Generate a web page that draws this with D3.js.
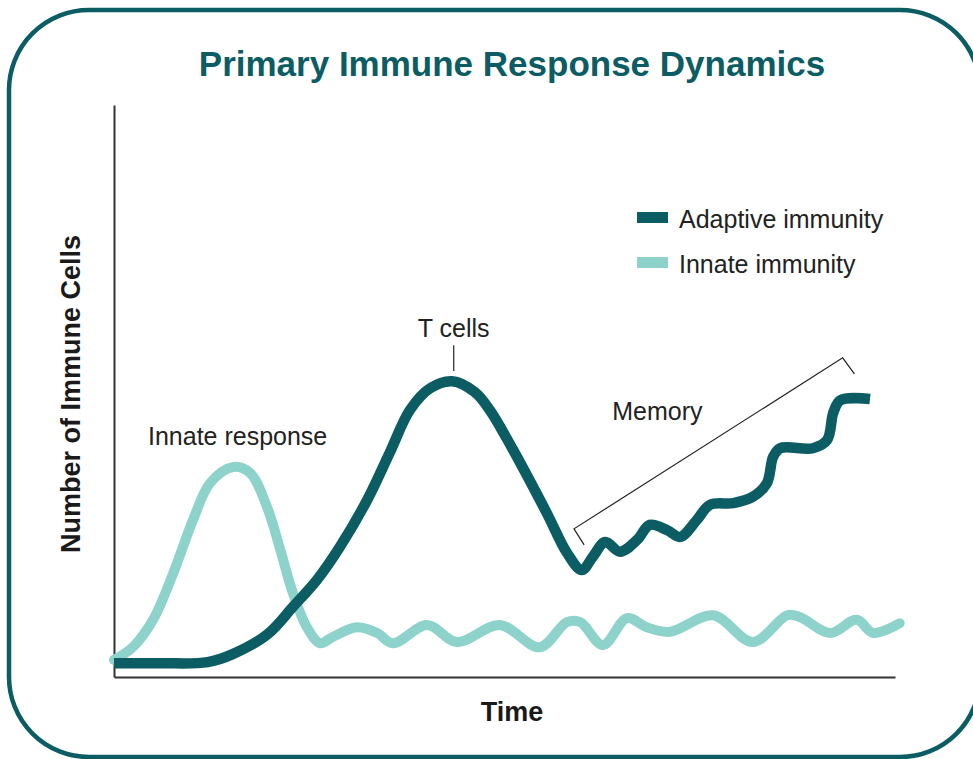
<!DOCTYPE html>
<html>
<head>
<meta charset="utf-8">
<script src="https://cdn.jsdelivr.net/npm/d3@7"></script>
<style>
  html, body { margin: 0; padding: 0; background: #fff; }
  svg { display: block; font-family: "Liberation Sans", Arial, sans-serif; }
</style>
</head>
<body>
<div id="chart"></div>
<script>
(function () {
  'use strict';

  /* -----------------------------------------------------------
     Data (time 0..100, cells 0..100)
  ----------------------------------------------------------- */
  var adaptiveTime  = [0, 6, 12.0, 15.2, 19.6, 23.0, 26.0, 28.9, 32.4, 35.3, 37.9, 40.5, 43.3, 46.2, 48.1, 51.1, 55.4, 58.0, 59.9, 61.3, 62.9, 64.8, 67.0, 68.6, 70.8, 72.5, 74.6, 76.3, 79.3, 81.8, 83.6, 84.4, 85.3, 89.5, 91.3, 92.1, 93.0, 96.8];
  var adaptiveCells = [2.4, 2.4, 2.6, 4.0, 7.4, 12.4, 17.0, 22.7, 30.9, 39.2, 46.7, 50.5, 51.7, 49.8, 46.7, 39.7, 28.7, 21.7, 18.7, 21.0, 23.6, 21.9, 24.0, 26.6, 25.7, 24.5, 27.4, 30.1, 30.4, 31.5, 33.9, 38.5, 40.0, 40.0, 41.4, 46.2, 48.4, 48.6];

  var innateTime  = [0, 2.4, 5.0, 7.6, 10.1, 12.3, 15.2, 17.4, 19.6, 21.3, 22.9, 24.7, 26.4, 28.0, 31.1, 33.7, 35.7, 40.1, 43.9, 49.4, 54.5, 58.0, 59.7, 62.6, 65.7, 68.2, 71.2, 76.7, 81.8, 86.2, 87.8, 91.7, 95.1, 97.2, 100.6];
  var innateCells = [3.0, 5.2, 10.0, 18.2, 27.4, 33.9, 36.7, 35.7, 29.7, 22.2, 14.7, 8.7, 5.9, 7.0, 8.7, 7.7, 5.9, 9.1, 6.1, 9.1, 5.2, 9.6, 9.6, 5.6, 10.3, 8.7, 7.9, 10.8, 6.1, 10.8, 10.5, 7.7, 10.0, 7.7, 9.4];

  var seriesNames  = ['Adaptive immunity', 'Innate immunity'];
  var seriesColors = ['#0b5c63', '#8ed3cb'];

  var titleText = 'Primary Immune Response Dynamics';
  var xLabel = 'Time';
  var yLabel = 'Number of Immune Cells';

  // annotation anchors in data units
  var tCellsMark    = [43.5, 58.0, 53.5];            // t, top v, bottom v
  var memoryBracket = [[60.2, 23.1], [58.9, 25.9], [93.3, 55.8], [94.8, 53.0]];
  var labels = [
    { text: 'Innate response', t: 4.35, v: 40.6, anchor: 'start' },
    { text: 'T cells',         t: 43.5, v: 59.4, anchor: 'middle' },
    { text: 'Memory',          t: 63.8, v: 44.9, anchor: 'start' }
  ];

  /* -----------------------------------------------------------
     Setup
  ----------------------------------------------------------- */
  var W = 973, H = 759;
  var TEAL = '#0b5c63';

  var svg = d3.select('#chart').append('svg')
    .attr('width', W).attr('height', H);

  /* Frame */
  svg.append('rect')
    .attr('x', 9).attr('y', 10)
    .attr('width', 971).attr('height', 747)
    .attr('rx', 80).attr('ry', 80)
    .attr('fill', '#fff')
    .attr('stroke', TEAL)
    .attr('stroke-width', 4.5);

  /* Title */
  svg.append('text')
    .attr('x', 512).attr('y', 76)
    .attr('text-anchor', 'middle')
    .attr('font-size', 35)
    .attr('font-weight', 'bold')
    .attr('fill', TEAL)
    .text(titleText);

  var x = d3.scaleLinear().domain([0, 100]).range([114, 895]);
  var y = d3.scaleLinear().domain([0, 100]).range([677, 105]);

  /* Axes — bare lines, no ticks */
  var gx = svg.append('g')
    .attr('transform', 'translate(0,' + y(0) + ')')
    .call(d3.axisBottom(x).tickValues([]).tickSizeOuter(0));
  var gy = svg.append('g')
    .attr('transform', 'translate(' + x(0) + ',0)')
    .call(d3.axisLeft(y).tickValues([]).tickSizeOuter(0));
  [gx, gy].forEach(function (g) {
    g.select('.domain').attr('stroke', '#333').attr('stroke-width', 2);
  });

  /* Axis labels */
  svg.append('text')
    .attr('x', 512).attr('y', 721)
    .attr('text-anchor', 'middle')
    .attr('font-size', 27).attr('font-weight', 'bold')
    .attr('fill', '#1a1a1a')
    .text(xLabel);

  svg.append('text')
    .attr('transform', 'translate(80,' + 394 + ') rotate(-90)')
    .attr('text-anchor', 'middle')
    .attr('font-size', 27).attr('font-weight', 'bold')
    .attr('fill', '#1a1a1a')
    .text(yLabel);

  /* Curves */
  var line = d3.line()
    .x(function (d) { return x(d[0]); })
    .y(function (d) { return y(d[1]); })
    .curve(d3.curveCatmullRom.alpha(0.5));

  var innate   = d3.zip(innateTime, innateCells);
  var adaptive = d3.zip(adaptiveTime, adaptiveCells);

  svg.append('path')
    .datum(innate)
    .attr('d', line)
    .attr('fill', 'none')
    .attr('stroke', seriesColors[1])
    .attr('stroke-width', 10)
    .attr('stroke-linecap', 'round')
    .attr('stroke-linejoin', 'round');

  svg.append('path')
    .datum(adaptive)
    .attr('d', line)
    .attr('fill', 'none')
    .attr('stroke', seriesColors[0])
    .attr('stroke-width', 10.5)
    .attr('stroke-linecap', 'butt')
    .attr('stroke-linejoin', 'round');

  /* Annotations */
  svg.selectAll('.note')
    .data(labels)
    .join('text')
    .attr('class', 'note')
    .attr('x', function (d) { return x(d.t); })
    .attr('y', function (d) { return y(d.v); })
    .attr('text-anchor', function (d) { return d.anchor; })
    .attr('font-size', 25)
    .attr('fill', '#222')
    .text(function (d) { return d.text; });

  svg.append('line')
    .attr('x1', x(tCellsMark[0])).attr('x2', x(tCellsMark[0]))
    .attr('y1', y(tCellsMark[1])).attr('y2', y(tCellsMark[2]))
    .attr('stroke', '#222').attr('stroke-width', 1.2);

  svg.append('path')
    .datum(memoryBracket)
    .attr('d', d3.line()
      .x(function (d) { return x(d[0]); })
      .y(function (d) { return y(d[1]); }))
    .attr('fill', 'none')
    .attr('stroke', '#222')
    .attr('stroke-width', 1.2);

  /* Legend */
  var legend = svg.append('g').attr('transform', 'translate(637,212)');
  var item = legend.selectAll('g')
    .data(seriesNames)
    .join('g')
    .attr('transform', function (d, i) { return 'translate(0,' + (i * 45) + ')'; });
  item.append('rect')
    .attr('width', 31).attr('height', 11)
    .attr('fill', function (d, i) { return seriesColors[i]; });
  item.append('text')
    .attr('x', 42).attr('y', 16)
    .attr('font-size', 25)
    .attr('fill', '#222')
    .text(function (d) { return d; });
})();
</script>
</body>
</html>
